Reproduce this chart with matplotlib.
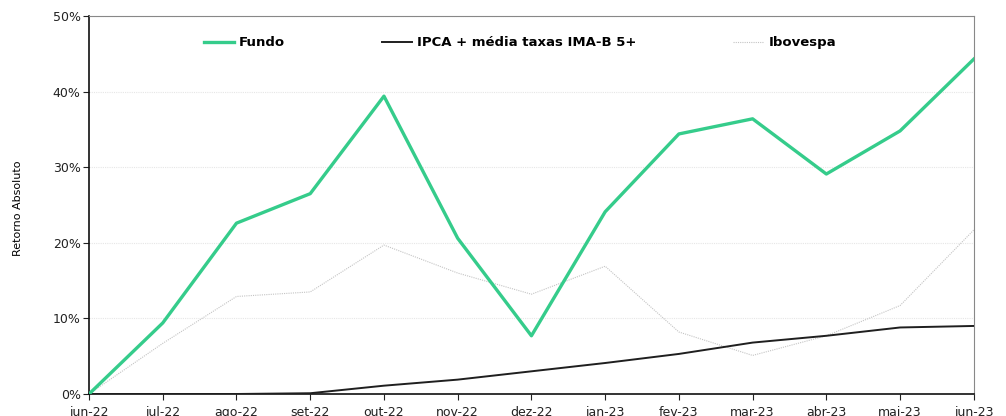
import matplotlib.pyplot as plt
from matplotlib.ticker import FuncFormatter, MultipleLocator

# Monthly cumulative returns (%)
months = ['jun-22', 'jul-22', 'ago-22', 'set-22', 'out-22', 'nov-22', 'dez-22',
          'jan-23', 'fev-23', 'mar-23', 'abr-23', 'mai-23', 'jun-23']
fundo = [0.0, 9.4, 22.6, 26.5, 39.4, 20.6, 7.7, 24.1, 34.4, 36.4, 29.1, 34.8, 44.3]
ipca_imab = [0.0, 0.0, 0.0, 0.1, 1.1, 1.9, 3.0, 4.1, 5.3, 6.8, 7.7, 8.8, 9.0]
ibovespa = [0.0, 6.7, 12.9, 13.5, 19.7, 16.0, 13.2, 16.9, 8.2, 5.1, 7.7, 11.7, 21.7]

fig = plt.figure(figsize=(10.06, 4.16), dpi=100)
ax = fig.add_axes([0.0885, 0.0529, 0.8795, 0.9086])

x = list(range(len(months)))
ax.plot(x, fundo, color='#35CC8B', linewidth=2.4, label='Fundo', zorder=4)
ax.plot(x, ipca_imab, color='#1f1f1f', linewidth=1.4, label='IPCA + média taxas IMA-B 5+', zorder=3)
ax.plot(x, ibovespa, color='#c4c4c4', linewidth=0.8, linestyle=(0, (1, 1)), label='Ibovespa', zorder=2)

ax.set_xlim(0, len(months) - 1)
ax.set_ylim(0, 50)
ax.set_xticks(x)
ax.set_xticklabels(months)
ax.yaxis.set_major_locator(MultipleLocator(10))
ax.yaxis.set_major_formatter(FuncFormatter(lambda v, p: f'{v:.0f}%'))
ax.tick_params(axis='both', direction='out', length=4, labelsize=9, colors='#222222', pad=2)
ax.tick_params(axis='x', pad=5)

ax.grid(axis='y', color='#e6e6e6', linestyle=(0, (1, 1)), linewidth=0.8)
ax.set_axisbelow(True)

ax.spines['left'].set_color('#111111')
ax.spines['bottom'].set_color('#111111')
ax.spines['left'].set_linewidth(1.2)
ax.spines['bottom'].set_linewidth(1.2)
ax.spines['top'].set_color('#888888')
ax.spines['right'].set_color('#888888')

fig.text(0.018, 0.5, 'Retorno Absoluto', rotation=90, va='center', ha='center', fontsize=8)

leg = ax.legend(loc='center', bbox_to_anchor=(0.487, 0.929), ncol=3, frameon=False,
                prop={'weight': 'bold', 'size': 9.5}, handlelength=2.3,
                handletextpad=0.4, columnspacing=7.3)

fig.savefig('out.png', dpi=100)
